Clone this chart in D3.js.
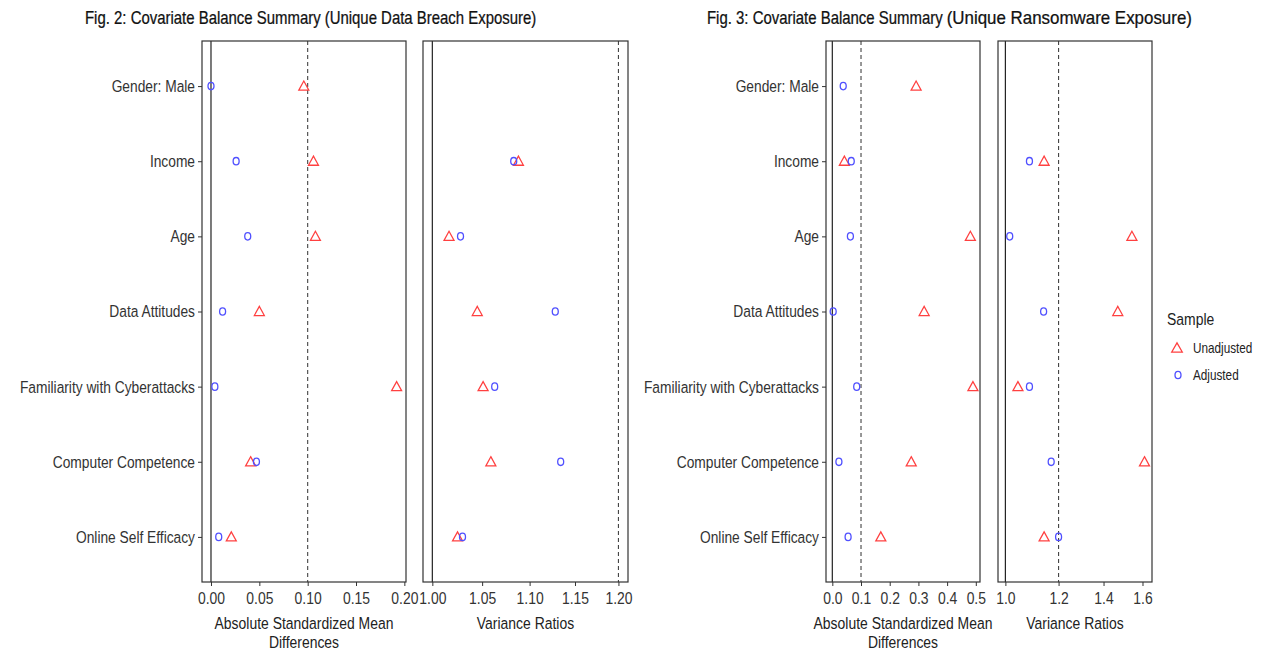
<!DOCTYPE html>
<html>
<head>
<meta charset="utf-8">
<script src="https://cdn.jsdelivr.net/npm/d3@7"></script>
<style>
  body { margin: 0; background: #fff; }
  text { font-family: "Liberation Sans Narrow", "Arial Narrow", "Liberation Sans", sans-serif; }
</style>
</head>
<body>
<svg id="chart" width="1267" height="656"></svg>
<script>
// covariates, top to bottom
const covariates = ["Gender: Male", "Income", "Age", "Data Attitudes",
  "Familiarity with Cyberattacks", "Computer Competence", "Online Self Efficacy"];

// Fig 2 - data breach exposure
const breachSmdUnadj = [0.096, 0.106, 0.108, 0.050, 0.192, 0.041, 0.021];
const breachSmdAdj   = [0.000, 0.026, 0.038, 0.012, 0.004, 0.047, 0.008];
const breachVrUnadj  = [null, 1.088, 1.0165, 1.045, 1.051, 1.059, 1.025];
const breachVrAdj    = [null, 1.083, 1.028, 1.128, 1.063, 1.134, 1.030];

// Fig 3 - ransomware exposure
const ransomSmdUnadj = [0.292, 0.042, 0.481, 0.320, 0.490, 0.275, 0.169];
const ransomSmdAdj   = [0.038, 0.066, 0.063, 0.003, 0.085, 0.023, 0.055];
const ransomVrUnadj  = [null, 1.142, 1.543, 1.470, 1.044, 1.611, 1.142];
const ransomVrAdj    = [null, 1.086, 1.015, 1.140, 1.086, 1.170, 1.200];

const smdTicks2 = [0, 0.05, 0.10, 0.15, 0.20];
const vrTicks2  = [1.00, 1.05, 1.10, 1.15, 1.20];
const smdTicks3 = [0, 0.1, 0.2, 0.3, 0.4, 0.5];
const vrTicks3  = [1.0, 1.2, 1.4, 1.6];

const sampleNames = ["Unadjusted", "Adjusted"];
const red = "#ff4040", blue = "#5050ff";

const svg = d3.select("#chart");
const plotTop = 41, plotBottom = 582;

const y = d3.scalePoint().domain(covariates).range([plotTop, plotBottom]).padding(0.6);

// no narrow font installed, so squeeze text horizontally
function squeeze(sel, sx) {
  sel.each(function() {
    const t = d3.select(this);
    const x = +(t.attr("x") || 0);
    t.attr("x", x / sx).attr("transform", `scale(${sx},1)`);
  });
}

function panel(cfg) {
  const g = svg.append("g");
  const x = cfg.log ? d3.scaleLog() : d3.scaleLinear();
  x.domain(cfg.domain).range(cfg.range);

  // reference lines
  g.append("line")
    .attr("x1", x(cfg.zero)).attr("x2", x(cfg.zero))
    .attr("y1", plotTop).attr("y2", plotBottom)
    .attr("stroke", "#222").attr("stroke-width", 1.2);
  g.append("line")
    .attr("x1", x(cfg.thresh)).attr("x2", x(cfg.thresh))
    .attr("y1", plotTop).attr("y2", plotBottom)
    .attr("stroke", "#444").attr("stroke-width", 1.1)
    .attr("stroke-dasharray", "4,3");

  // x axis
  const xAxis = d3.axisBottom(x).tickValues(cfg.ticks)
    .tickFormat(d3.format(cfg.fmt)).tickSize(4).tickPadding(6);
  const ax = g.append("g").attr("transform", `translate(0,${plotBottom})`).call(xAxis);
  ax.select(".domain").remove();
  ax.selectAll("line").attr("stroke", "#333");
  ax.selectAll("text").attr("fill", "#333").style("font-size", "17px").call(squeeze, 0.82);

  if (cfg.yLabels) {
    const yAxis = d3.axisLeft(y).tickSize(4).tickPadding(3);
    const ay = g.append("g").attr("transform", `translate(${cfg.range[0]},0)`).call(yAxis);
    ay.select(".domain").remove();
    ay.selectAll("line").attr("stroke", "#333");
    ay.selectAll("text").attr("fill", "#333").style("font-size", "17px").call(squeeze, 0.81);
  }

  // points
  const tri = d3.symbol().type(d3.symbolTriangle).size(48);
  cfg.unadj.forEach((v, i) => {
    if (v == null) return;
    g.append("path").attr("d", tri())
      .attr("transform", `translate(${x(v)},${y(covariates[i]) + 1}) scale(0.95,1)`)
      .attr("fill", "none").attr("stroke", red).attr("stroke-width", 1.3);
  });
  cfg.adj.forEach((v, i) => {
    if (v == null) return;
    g.append("ellipse").attr("cx", x(v)).attr("cy", y(covariates[i]))
      .attr("rx", 3).attr("ry", 3.7)
      .attr("fill", "none").attr("stroke", blue).attr("stroke-width", 1.3);
  });

  // frame
  g.append("rect")
    .attr("x", cfg.range[0]).attr("y", plotTop)
    .attr("width", cfg.range[1] - cfg.range[0]).attr("height", plotBottom - plotTop)
    .attr("fill", "none").attr("stroke", "#333").attr("stroke-width", 1.2);

  // axis title
  const cx = (cfg.range[0] + cfg.range[1]) / 2;
  cfg.title.forEach((t, i) => {
    g.append("text").attr("x", cx).attr("y", 629 + i * 19)
      .attr("text-anchor", "middle").attr("fill", "#222")
      .style("font-size", "17px").text(t).call(squeeze, 0.82);
  });
}

const smdTitle = ["Absolute Standardized Mean", "Differences"];

panel({ domain: [-0.0093, 0.2017], range: [202, 406], zero: 0, thresh: 0.1,
  ticks: smdTicks2, fmt: ".2f", yLabels: true, title: smdTitle,
  unadj: breachSmdUnadj, adj: breachSmdAdj });
panel({ log: true, domain: [0.9909, 1.2113], range: [423, 628], zero: 1, thresh: 1.2,
  ticks: vrTicks2, fmt: ".2f", title: ["Variance Ratios"],
  unadj: breachVrUnadj, adj: breachVrAdj });
panel({ domain: [-0.022, 0.5146], range: [826, 980], zero: 0, thresh: 0.1,
  ticks: smdTicks3, fmt: ".1f", yLabels: true, title: smdTitle,
  unadj: ransomSmdUnadj, adj: ransomSmdAdj });
panel({ log: true, domain: [0.975, 1.653], range: [998, 1152], zero: 1, thresh: 1.2,
  ticks: vrTicks3, fmt: ".1f", title: ["Variance Ratios"],
  unadj: ransomVrUnadj, adj: ransomVrAdj });

// titles: main part + parenthetical
function figTitle(x0, main, paren, sxParen) {
  const t1 = svg.append("text").attr("x", x0).attr("y", 24).attr("fill", "#111")
    .style("font-size", "18px").style("stroke", "#111").style("stroke-width", 0.25)
    .text(main).call(squeeze, 0.83);
  const w = t1.node().getComputedTextLength() * 0.83;
  svg.append("text").attr("x", x0 + w + 4).attr("y", 24).attr("fill", "#111")
    .style("font-size", "18px").style("stroke", "#111").style("stroke-width", 0.25)
    .text(paren).call(squeeze, sxParen);
}
figTitle(85, "Fig. 2: Covariate Balance Summary", "(Unique Data Breach Exposure)", 0.83);
figTitle(707, "Fig. 3: Covariate Balance Summary", "(Unique Ransomware Exposure)", 0.94);

// legend
const leg = svg.append("g").attr("transform", "translate(1167,0)");
leg.append("text").attr("x", 0).attr("y", 325).attr("fill", "#222")
  .style("font-size", "17px").text("Sample").call(squeeze, 0.82);
sampleNames.forEach((name, i) => {
  const ly = 348 + i * 27;
  if (i == 0) {
    leg.append("path").attr("d", d3.symbol().type(d3.symbolTriangle).size(48)())
      .attr("transform", `translate(10,${ly + 1})`)
      .attr("fill", "none").attr("stroke", red).attr("stroke-width", 1.3);
  } else {
    leg.append("ellipse").attr("cx", 11).attr("cy", ly).attr("rx", 3).attr("ry", 3.7)
      .attr("fill", "none").attr("stroke", blue).attr("stroke-width", 1.3);
  }
  leg.append("text").attr("x", 26).attr("y", ly + 5).attr("fill", "#222")
    .style("font-size", "14px").text(name).call(squeeze, 0.84);
});
</script>
</body>
</html>
